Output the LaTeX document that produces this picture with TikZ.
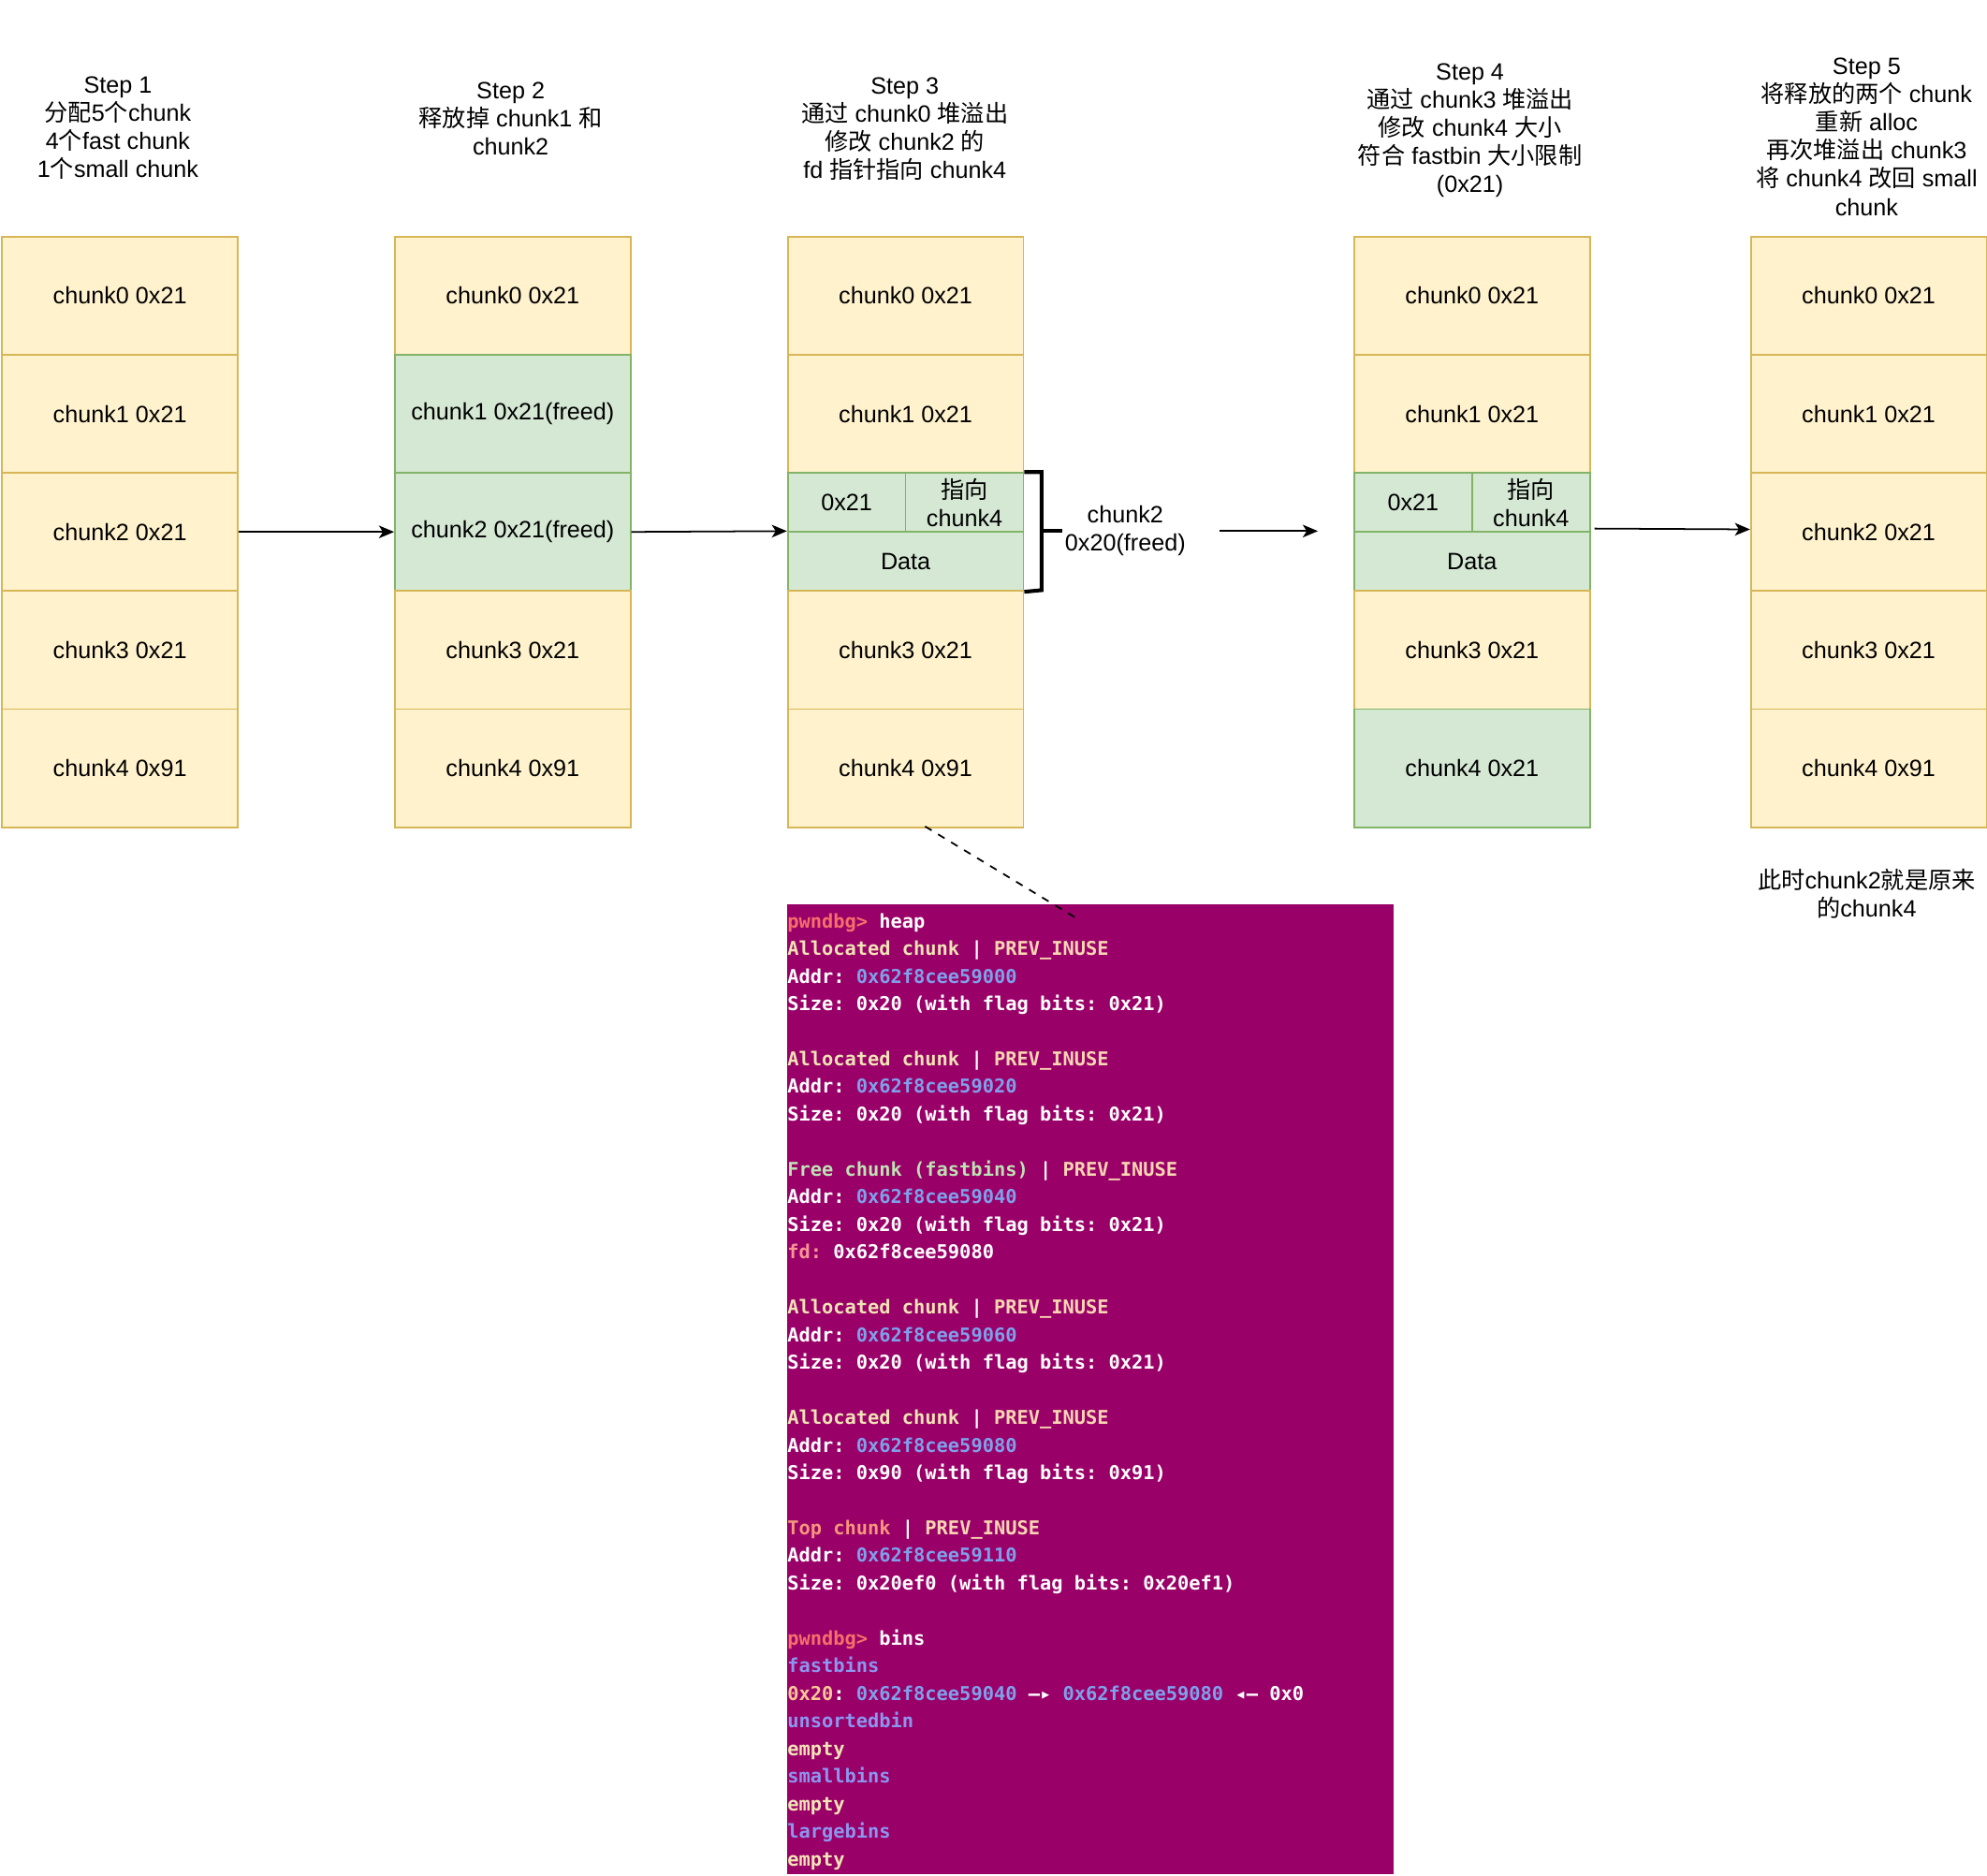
\documentclass[tikz,border=0pt]{standalone}
\usepackage{fontspec}
\setmainfont{Liberation Sans}
\newfontfamily\cjk{Noto Sans CJK SC}
\newfontfamily\tmono{DejaVu Sans Mono}
\usetikzlibrary{arrows.meta}
\newcommand\zh[1]{{\cjk #1}}
\definecolor{yfill}{HTML}{FFF2CC}
\definecolor{ystroke}{HTML}{D6B656}
\definecolor{gfill}{HTML}{D5E8D4}
\definecolor{gstroke}{HTML}{82B366}
\definecolor{termbg}{RGB}{153,0,104}
\definecolor{tpw}{RGB}{245,112,106}
\definecolor{talloc}{RGB}{240,228,180}
\definecolor{tprev}{RGB}{250,214,178}
\definecolor{taddr}{RGB}{128,160,235}
\definecolor{tfree}{RGB}{190,226,180}
\definecolor{tfd}{RGB}{246,150,150}
\definecolor{ttop}{RGB}{246,150,125}
\definecolor{tbin}{RGB}{140,150,240}
\definecolor{tempty}{RGB}{242,228,180}
\definecolor{tzx}{RGB}{250,200,150}
\newcommand\termline[2]{\node[tline] (t#1) at (621,{732+(#1-1)*21.765}) {#2};}
\newcommand\tc[2]{\textcolor{#1}{#2}}
\begin{document}
\begin{tikzpicture}[x=0.5pt,y=-0.5pt,
 every node/.style={font=\fontsize{9.3}{11.1}\selectfont},
 cell/.style={draw, line width=0.65pt, inner sep=0, anchor=north west, minimum width=93pt, minimum height=46.6pt, align=center},
 ycell/.style={cell, draw=ystroke, fill=yfill},
 gcell/.style={cell, draw=gstroke, fill=gfill},
 halfw/.style={minimum width=46.5pt},
 halfh/.style={minimum height=23.3pt},
 steplabel/.style={align=center, inner sep=0},
 arr/.style={-{Stealth[length=6pt,width=5pt,inset=1.6pt]}, line width=0.65pt},
 term/.style={fill=termbg, anchor=north west, inner sep=0, minimum width=239pt, minimum height=382.5pt},
 tline/.style={anchor=base west, inner sep=0, text=white, font=\tmono\bfseries\fontsize{7.52}{10.9}\selectfont\frenchspacing},
 ]
\fill[white] (0,0) rectangle (1568,1479.4);
\useasboundingbox (0,0) rectangle (1568,1479.4);

% step labels
\node[steplabel] (s1) at (93,101) {Step 1\\\zh{分配}5\zh{个}chunk\\4\zh{个}fast chunk\\1\zh{个}small chunk};
\node[steplabel] (s2) at (403,93.5) {Step 2\\\zh{释放掉} chunk1 \zh{和}\\chunk2};
\node[steplabel] (s3) at (714,101.5) {Step 3\\\zh{通过} chunk0 \zh{堆溢出}\\\zh{修改} chunk2 \zh{的}\\fd \zh{指针指向} chunk4};
\node[steplabel] (s4) at (1160,103) {Step 4\\\zh{通过} chunk3 \zh{堆溢出}\\\zh{修改} chunk4 \zh{大小}\\\zh{符合} fastbin \zh{大小限制}\\(0x21)};
\node[steplabel] (s5) at (1473,108) {Step 5\\\zh{将释放的两个} chunk\\\zh{重新} alloc\\\zh{再次堆溢出} chunk3\\\zh{将} chunk4 \zh{改回} small\\chunk};

% column 1
\node[ycell] (c1r1) at (1,186) {chunk0 0x21};
\node[ycell] (c1r2) at (1,279.2) {chunk1 0x21};
\node[ycell] (c1r3) at (1,372.4) {chunk2 0x21};
\node[ycell] (c1r4) at (1,465.6) {chunk3 0x21};
\node[ycell] (c1r5) at (1,558.8) {chunk4 0x91};

% column 2
\node[ycell] (c2r1) at (311,186) {chunk0 0x21};
\node[gcell] (c2r2) at (311,279.2) {chunk1 0x21(freed)};
\node[gcell] (c2r3) at (311,372.4) {chunk2 0x21(freed)};
\node[ycell] (c2r4) at (311,465.6) {chunk3 0x21};
\node[ycell] (c2r5) at (311,558.8) {chunk4 0x91};

% column 3
\node[ycell] (c3r1) at (621,186) {chunk0 0x21};
\node[ycell] (c3r2) at (621,279.2) {chunk1 0x21};
\node[gcell,halfw,halfh] (c3a) at (621,372.4) {0x21};
\node[gcell,halfw,halfh] (c3b) at (714,372.4) {\zh{指向}\\chunk4};
\node[gcell,halfh] (c3d) at (621,419) {Data};
\node[ycell] (c3r4) at (621,465.6) {chunk3 0x21};
\node[ycell] (c3r5) at (621,558.8) {chunk4 0x91};

% column 4
\node[ycell] (c4r1) at (1068,186) {chunk0 0x21};
\node[ycell] (c4r2) at (1068,279.2) {chunk1 0x21};
\node[gcell,halfw,halfh] (c4a) at (1068,372.4) {0x21};
\node[gcell,halfw,halfh] (c4b) at (1161,372.4) {\zh{指向}\\chunk4};
\node[gcell,halfh] (c4d) at (1068,419) {Data};
\node[ycell] (c4r4) at (1068,465.6) {chunk3 0x21};
\node[gcell] (c4r5) at (1068,558.8) {chunk4 0x21};

% column 5
\node[ycell] (c5r1) at (1381,186) {chunk0 0x21};
\node[ycell] (c5r2) at (1381,279.2) {chunk1 0x21};
\node[ycell] (c5r3) at (1381,372.4) {chunk2 0x21};
\node[ycell] (c5r4) at (1381,465.6) {chunk3 0x21};
\node[ycell] (c5r5) at (1381,558.8) {chunk4 0x91};

% arrows
\draw[arr] (c1r3.east) -- (c2r3.west);
\draw[arr] (c2r3.east) -- (c3d.north west);
\coordinate (fa1) at (962,419);
\coordinate (fa2) at (1040,419);
\draw[arr] (fa1) -- (fa2);
\draw[arr] ([xshift=1.5pt,yshift=1pt]c4d.north east) -- ([yshift=1pt]c5r3.west);

% bracket
\coordinate (br1) at (822,372.4);
\coordinate (br2) at (822,465.6);
\coordinate (brm) at (822,419);
\coordinate (brt) at (838,419);
\draw[line width=1.5pt] (c3b.north east) -- (br1) -- (br2) -- (c3d.south east);
\draw[line width=1.5pt] (brm) -- (brt);
\node[align=center, inner sep=0] (lbl) at (888,419) {chunk2\\0x20(freed)};

% note
\node[align=center, inner sep=0] (note) at (1473,705) {\zh{此时}chunk2\zh{就是原来}\\\zh{的}chunk4};

% terminal
\node[term] (term) at (621,713) {};
\termline{1}{\tc{tpw}{pwndbg>} heap}
\termline{2}{\tc{talloc}{Allocated chunk} | \tc{tprev}{PREV\_INUSE}}
\termline{3}{Addr: \tc{taddr}{0x62f8cee59000}}
\termline{4}{Size: 0x20 (with flag bits: 0x21)}
\termline{6}{\tc{talloc}{Allocated chunk} | \tc{tprev}{PREV\_INUSE}}
\termline{7}{Addr: \tc{taddr}{0x62f8cee59020}}
\termline{8}{Size: 0x20 (with flag bits: 0x21)}
\termline{10}{\tc{tfree}{Free chunk (fastbins)} | \tc{tprev}{PREV\_INUSE}}
\termline{11}{Addr: \tc{taddr}{0x62f8cee59040}}
\termline{12}{Size: 0x20 (with flag bits: 0x21)}
\termline{13}{\tc{tfd}{fd:} 0x62f8cee59080}
\termline{15}{\tc{talloc}{Allocated chunk} | \tc{tprev}{PREV\_INUSE}}
\termline{16}{Addr: \tc{taddr}{0x62f8cee59060}}
\termline{17}{Size: 0x20 (with flag bits: 0x21)}
\termline{19}{\tc{talloc}{Allocated chunk} | \tc{tprev}{PREV\_INUSE}}
\termline{20}{Addr: \tc{taddr}{0x62f8cee59080}}
\termline{21}{Size: 0x90 (with flag bits: 0x91)}
\termline{23}{\tc{ttop}{Top chunk} | \tc{tprev}{PREV\_INUSE}}
\termline{24}{Addr: \tc{taddr}{0x62f8cee59110}}
\termline{25}{Size: 0x20ef0 (with flag bits: 0x20ef1)}
\termline{27}{\tc{tpw}{pwndbg>} bins}
\termline{28}{\tc{tbin}{fastbins}}
\termline{29}{\tc{tzx}{0x20}: \tc{taddr}{0x62f8cee59040} —▸ \tc{taddr}{0x62f8cee59080} ◂— 0x0}
\termline{30}{\tc{tbin}{unsortedbin}}
\termline{31}{\tc{tempty}{empty}}
\termline{32}{\tc{tbin}{smallbins}}
\termline{33}{\tc{tempty}{empty}}
\termline{34}{\tc{tbin}{largebins}}
\termline{35}{\tc{tempty}{empty}}

% dashed connector
\coordinate (dA) at (730,652);
\coordinate (dB) at (852,726);
\draw[dashed, dash pattern=on 3pt off 3pt, line width=0.65pt] (dA) -- (dB);
\end{tikzpicture}
\end{document}
